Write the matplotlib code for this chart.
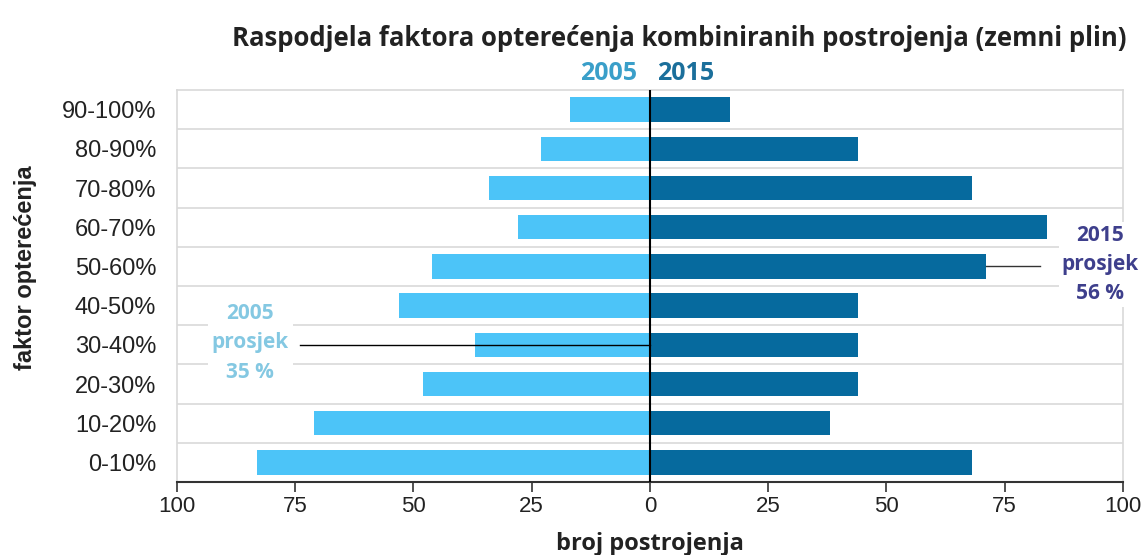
import numpy as np
import matplotlib.pyplot as plt
from matplotlib.ticker import FixedLocator

categories = ["0-10%", "10-20%", "20-30%", "30-40%", "40-50%",
              "50-60%", "60-70%", "70-80%", "80-90%", "90-100%"]
count_2005 = [83, 71, 48, 37, 53, 46, 28, 34, 23, 17]
count_2015 = [68, 38, 44, 44, 44, 71, 84, 68, 44, 17]
avg_2005 = 35
avg_2015 = 56
xticks = [-100, -75, -50, -25, 0, 25, 50, 75, 100]

c_2005 = "#4cc4f8"
c_2015 = "#066a9e"

fig = plt.figure(figsize=(11.47, 5.55), dpi=100)
ax = fig.add_axes([0.1543, 0.1315, 0.8247, 0.7063])

y = np.arange(len(categories))
ax.barh(y, [-v for v in count_2005], height=0.62, color=c_2005, zorder=3)
ax.barh(y, count_2015, height=0.62, color=c_2015, zorder=3)

ax.set_xlim(-100, 100)
ax.set_ylim(-0.5, len(categories) - 0.5)
ax.set_yticks(y)
ax.set_yticklabels(categories, fontsize=17, family="Liberation Sans", color="#222222")
ax.tick_params(axis="y", length=0, pad=15)
ax.xaxis.set_major_locator(FixedLocator(xticks))
ax.set_xticklabels([str(abs(t)) for t in xticks], fontsize=16,
                   family="Liberation Sans", color="#222222")
ax.tick_params(axis="x", direction="out", length=7, width=1.2, color="#333333", pad=3)

# row separators
for b in np.arange(0.5, len(categories) - 0.5):
    ax.axhline(b, color="#d9d9d9", lw=1.2, zorder=1)
ax.axvline(0, color="black", lw=1.5, zorder=4)

for s in ["left", "top", "right"]:
    ax.spines[s].set_color("#d9d9d9")
    ax.spines[s].set_linewidth(1.2)
ax.spines["bottom"].set_color("#333333")
ax.spines["bottom"].set_linewidth(1.5)

ax.set_xlabel("broj postrojenja", fontsize=17, fontweight="bold",
              family="Open Sans", color="#222222")
ax.xaxis.label.set_va("center")
ax.xaxis.set_label_coords(0.5, -0.158)
ax.set_ylabel("faktor opterećenja", fontsize=17, fontweight="bold",
              family="Liberation Sans", color="#222222")
ax.yaxis.label.set_va("center")
ax.yaxis.set_label_coords(-0.16, 0.546)

fig.text(0.592, 0.931, "Raspodjela faktora opterećenja kombiniranih postrojenja (zemni plin)",
         ha="center", va="center", fontsize=18.5, fontweight="bold",
         family="Open Sans", color="#222222")
fig.text(0.555, 0.868, "2005", ha="right", va="center", fontsize=18,
         fontweight="bold", family="Open Sans", color="#3a9fc9")
fig.text(0.573, 0.868, "2015", ha="left", va="center", fontsize=18,
         fontweight="bold", family="Open Sans", color="#1b6f9b")

# averages
i05 = categories.index("30-40%")
ax.plot([-74, 0], [i05, i05], color="black", lw=1, zorder=5)
ax.text(-84.5, i05 + 0.05, "2005\nprosjek\n35 %", ha="center", va="center",
        fontsize=15, fontweight="bold", family="Open Sans", color="#84c8e2",
        linespacing=1.55, zorder=6,
        bbox=dict(facecolor="white", edgecolor="none", pad=3))
i15 = categories.index("50-60%")
ax.plot([count_2015[i15], 82.5], [i15, i15], color="#333333", lw=1, zorder=5)
ax.text(95.2, i15 + 0.05, "2015\nprosjek\n56 %", ha="center", va="center",
        fontsize=15, fontweight="bold", family="Open Sans", color="#3e3f8c",
        linespacing=1.5, zorder=6,
        bbox=dict(facecolor="white", edgecolor="none", pad=2))

fig.savefig("out.png", dpi=100)
